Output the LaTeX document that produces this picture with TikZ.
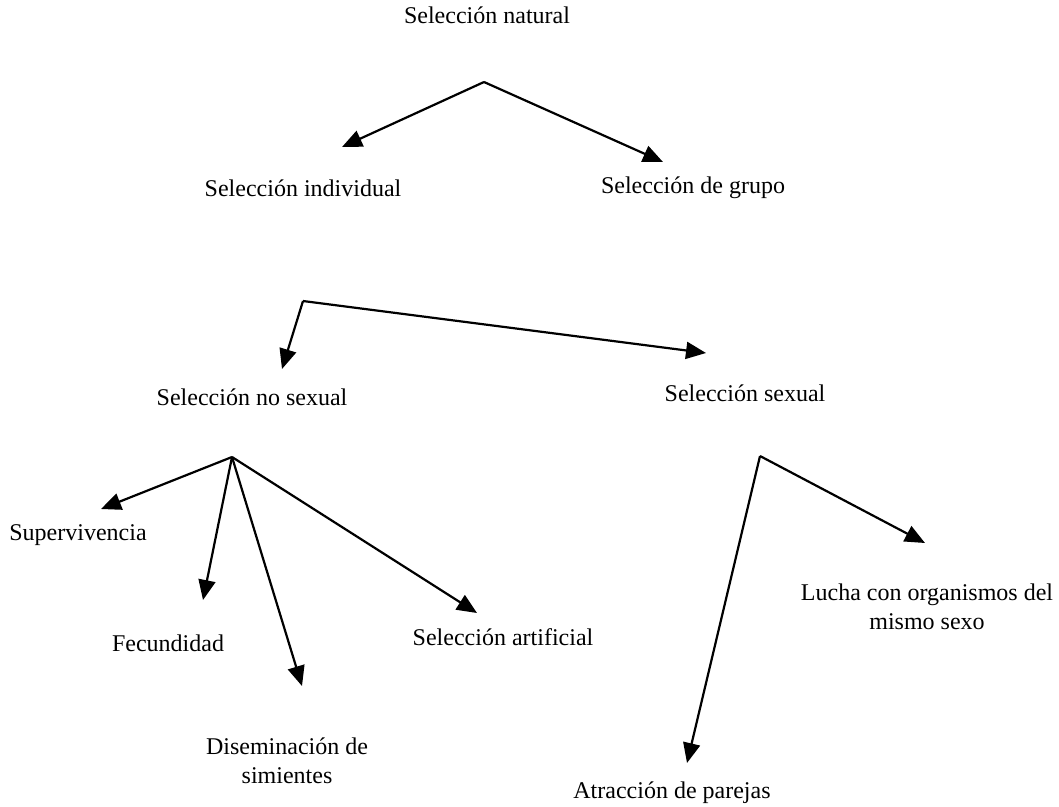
\documentclass[tikz,border=0pt]{standalone}
\usepackage{fontspec}
\setmainfont{Liberation Serif}
\usetikzlibrary{arrows.meta}
\tikzset{
    lbl/.style={inner sep=0pt, align=center, font=\fontsize{24}{28.5}\selectfont},
    branch/.style={line width=2.2pt, -{Triangle[length=20pt, width=17pt]}},
}

\begin{document}
\begin{tikzpicture}[x=1pt, y=-1pt]
        \useasboundingbox (0, 0) rectangle (1059, 806);
        %label all texts
        \node[lbl] (natural) at (487, 15) {Selección natural};
        \node[lbl] (individual) at (303, 188) {Selección individual};
        \node[lbl] (grupo) at (693, 188) {Selección de grupo};
        \node[lbl] (nosexual) at (252, 397) {Selección no sexual};
        \node[lbl] (sexual) at (745, 393) {Selección sexual};
        \node[lbl] (superv) at (78, 535) {Supervivencia};
        \node[lbl] (fecund) at (168, 643) {Fecundidad};
        \node[lbl] (disem) at (287, 761) {Diseminación de\\simientes};
        \node[lbl] (artif) at (503, 637) {Selección artificial};
        \node[lbl] (lucha) at (927, 607) {Lucha con organismos del\\mismo sexo};
        \node[lbl] (atrac) at (672, 793) {Atracción de parejas};
        %branch points
        \coordinate (top) at (484, 82);
        \coordinate (mid) at (303, 301);
        \coordinate (left) at (232, 457);
        \coordinate (right) at (760, 456);
        %arrow tips
        \coordinate (individual-tip) at (342, 147);
        \coordinate (grupo-tip) at (663, 162);
        \coordinate (nosexual-tip) at (282, 369);
        \coordinate (sexual-tip) at (706, 353);
        \coordinate (superv-tip) at (101, 509);
        \coordinate (fecund-tip) at (203, 600);
        \coordinate (disem-tip) at (302, 686);
        \coordinate (artif-tip) at (477, 613);
        \coordinate (lucha-tip) at (925, 543);
        \coordinate (atrac-tip) at (687, 763);
        %draw branches
        \draw[branch] (top) -- (individual-tip);
        \draw[branch] (top) -- (grupo-tip);
        \draw[branch] (mid) -- (nosexual-tip);
        \draw[branch] (mid) -- (sexual-tip);
        \foreach \t in {superv, fecund, disem, artif}
            \draw[branch] (left) -- (\t-tip);
        \draw[branch] (right) -- (lucha-tip);
        \draw[branch] (right) -- (atrac-tip);
    \end{tikzpicture}
\end{document}
